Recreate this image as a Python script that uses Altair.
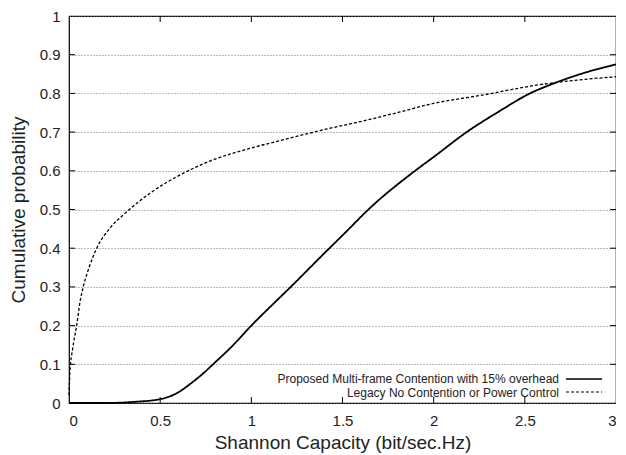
import altair as alt
import pandas as pd

# Data
prop_x = [0.0, 0.19, 0.36, 0.5, 0.59, 0.664, 0.737, 0.79, 0.901, 1.0, 1.12, 1.229, 1.377,
          1.523, 1.642, 1.898, 1.998, 2.181, 2.364, 2.528, 2.638, 2.876, 3.0]
prop_y = [0.0, 0.0, 0.003, 0.01, 0.025, 0.049, 0.077, 0.1, 0.15, 0.2, 0.256, 0.306, 0.376,
          0.444, 0.5, 0.6, 0.635, 0.7, 0.755, 0.8, 0.822, 0.860, 0.875]
leg_x = [0.0, 0.005, 0.02, 0.042, 0.06, 0.078, 0.11, 0.152, 0.225, 0.307, 0.444, 0.645, 0.8,
         0.993, 1.2, 1.377, 1.633, 1.815, 1.998, 2.272, 2.547, 2.8, 3.0]
leg_y = [0.02, 0.08, 0.14, 0.2, 0.26, 0.3, 0.35, 0.4, 0.452, 0.49, 0.542, 0.598, 0.63,
         0.658, 0.683, 0.704, 0.731, 0.752, 0.774, 0.796, 0.82, 0.835, 0.843]
series_names = ["Proposed Multi-frame Contention with 15% overhead",
                "Legacy No Contention or Power Control"]
x_ticks = [0, 0.5, 1, 1.5, 2, 2.5, 3]
y_ticks = [0, 0.1, 0.2, 0.3, 0.4, 0.5, 0.6, 0.7, 0.8, 0.9, 1]

W, H = 547, 387
FONT = "Liberation Sans"
XTITLE = "Shannon Capacity (bit/sec.Hz)"
YTITLE = "Cumulative probability"

df = pd.concat([
    pd.DataFrame({"x": prop_x, "y": prop_y, "series": series_names[0], "order": range(len(prop_x))}),
    pd.DataFrame({"x": leg_x, "y": leg_y, "series": series_names[1], "order": range(len(leg_x))}),
])

xs = alt.Scale(domain=[0, 3], nice=False, zero=False)
ys = alt.Scale(domain=[0, 1], nice=False, zero=False)

xaxis = alt.Axis(values=x_ticks, format="~g", grid=False, tickSize=0, domain=False,
                 labelPadding=10, labelFontSize=15, titleFontSize=19,
                 titlePadding=5, labelFont=FONT, titleFont=FONT, labelOverlap=False,
                 labelColor="#222", titleColor="#222", titleFontWeight="normal")
yaxis = alt.Axis(values=y_ticks, format="~g", grid=True, gridDash=[1, 2],
                 gridColor="#777", gridWidth=1, tickSize=0, domain=False,
                 labelPadding=9, labelFontSize=15, titleFontSize=19,
                 titlePadding=11, labelFont=FONT, titleFont=FONT, labelOverlap=False,
                 labelColor="#222", titleColor="#222", titleFontWeight="normal")


def X(field):
    return alt.X(field, scale=xs, axis=xaxis, title=XTITLE)


def Y(field):
    return alt.Y(field, scale=ys, axis=yaxis, title=YTITLE)


lines = alt.Chart(df).mark_line(color="black", interpolate="monotone").encode(
    x=X("x:Q"),
    y=Y("y:Q"),
    detail="series:N",
    order="order:Q",
    strokeDash=alt.StrokeDash("series:N", scale=alt.Scale(domain=series_names, range=[[1, 0], [3, 2]]), legend=None),
    strokeWidth=alt.StrokeWidth("series:N", scale=alt.Scale(domain=series_names, range=[1.8, 1.3]), legend=None),
)

# inward ticks on all four sides
xt = pd.DataFrame({"v": x_ticks[1:-1]})
yt = pd.DataFrame({"v": y_ticks[1:-1]})
tick_bottom = alt.Chart(xt).mark_rule(color="black").encode(
    x=X("v:Q"), y=alt.value(H), y2=alt.value(H - 6))
tick_top = alt.Chart(xt).mark_rule(color="black").encode(
    x=X("v:Q"), y=alt.value(0), y2=alt.value(6))
tick_left = alt.Chart(yt).mark_rule(color="black").encode(
    y=Y("v:Q"), x=alt.value(0), x2=alt.value(6))
tick_right = alt.Chart(yt).mark_rule(color="black").encode(
    y=Y("v:Q"), x=alt.value(W), x2=alt.value(W - 6))

# manual legend (label on left, sample on right)
leg_df = pd.DataFrame({"label": series_names, "row": [0, 1]})
leg_text0 = alt.Chart(leg_df[leg_df.row == 0]).mark_text(
    align="right", baseline="middle", fontSize=12, font=FONT, color="#222").encode(
    text="label:N", x=alt.value(490), y=alt.value(363))
leg_text1 = alt.Chart(leg_df[leg_df.row == 1]).mark_text(
    align="right", baseline="middle", fontSize=12, font=FONT, color="#222").encode(
    text="label:N", x=alt.value(490), y=alt.value(376.5))
leg_line0 = alt.Chart(leg_df[leg_df.row == 0]).mark_rule(color="black", strokeWidth=1.3).encode(
    x=alt.value(497), x2=alt.value(533), y=alt.value(363))
leg_line1 = alt.Chart(leg_df[leg_df.row == 1]).mark_rule(color="black", strokeWidth=1.1, strokeDash=[3, 2]).encode(
    x=alt.value(497), x2=alt.value(533), y=alt.value(376))

chart = alt.layer(
    lines, tick_bottom, tick_top, tick_left, tick_right,
    leg_text0, leg_text1, leg_line0, leg_line1
).properties(
    width=W, height=H,
    autosize=alt.AutoSizeParams(type="none"),
    padding={"left": 61, "top": 8, "right": 0, "bottom": 51},
    background="white",
).configure_view(stroke="black", strokeWidth=1.2)

chart.save("out.html", embed_options={"renderer": "svg", "actions": False})
